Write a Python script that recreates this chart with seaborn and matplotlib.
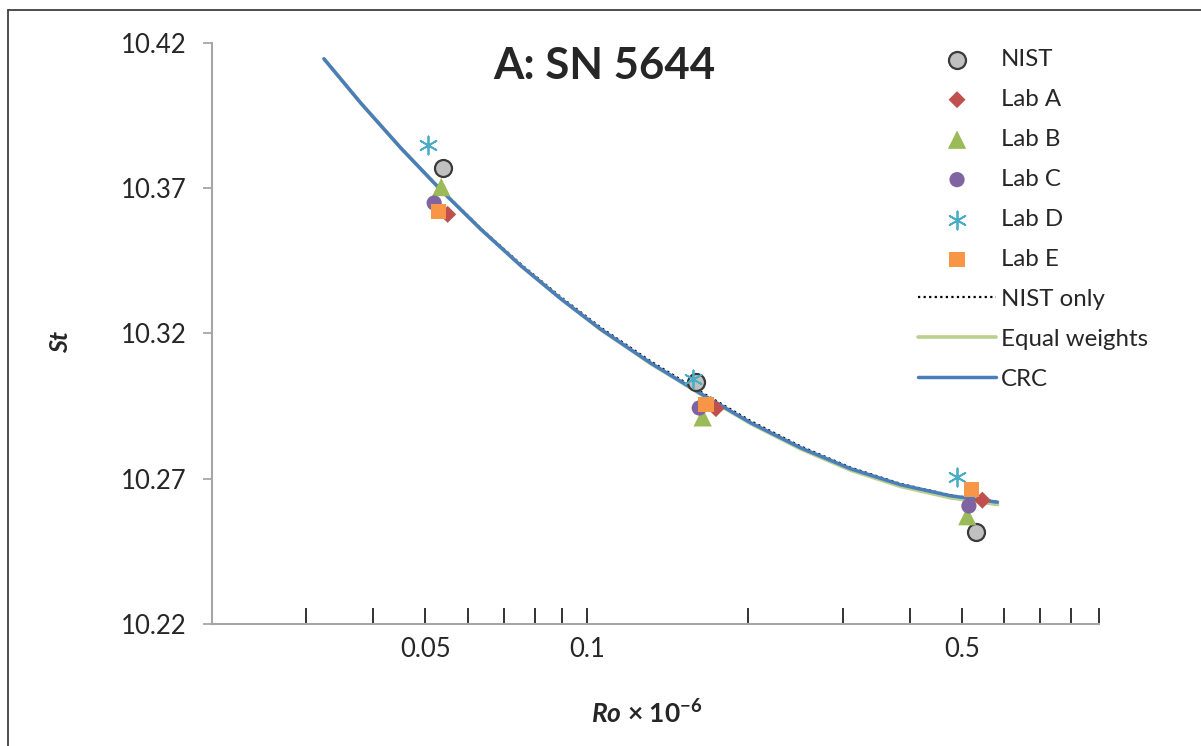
import matplotlib
matplotlib.use('Agg')
import matplotlib.pyplot as plt
from matplotlib.lines import Line2D
from matplotlib.ticker import NullLocator
import seaborn as sns

# Measured points (Ro x 1e-6, St)
nist_ro = [0.0539, 0.1596, 0.5301]
nist_st = [10.3768, 10.3033, 10.2516]
laba_ro = [0.0550, 0.1739, 0.5457]
laba_st = [10.3609, 10.2941, 10.2626]
labb_ro = [0.0535, 0.1643, 0.5116]
labb_st = [10.3703, 10.2911, 10.2571]
labc_ro = [0.0519, 0.1619, 0.5151]
labc_st = [10.3648, 10.2943, 10.2606]
labd_ro = [0.0505, 0.1573, 0.4901]
labd_st = [10.3846, 10.3044, 10.2706]
labe_ro = [0.0529, 0.1666, 0.5205]
labe_st = [10.3620, 10.2956, 10.2663]

# Fitted curves
curve_ro = [0.03234, 0.03795, 0.04504, 0.05347, 0.06347, 0.07534, 0.08946, 0.1062,
            0.1316, 0.1631, 0.2020, 0.2503, 0.3101, 0.3843, 0.4763, 0.5824]
crc_st = [10.4144, 10.3990, 10.3836, 10.3692, 10.3557, 10.3432, 10.3318, 10.3213,
          10.3097, 10.2992, 10.2892, 10.2806, 10.2734, 10.2679, 10.2641, 10.2619]
equal_st = [10.4144, 10.3990, 10.3836, 10.3692, 10.3557, 10.3432, 10.3318, 10.3212,
            10.3095, 10.2990, 10.2889, 10.2802, 10.2729, 10.2673, 10.2634, 10.2611]
nistonly_st = [10.4145, 10.3991, 10.3838, 10.3694, 10.3560, 10.3437, 10.3324, 10.3219,
               10.3103, 10.2998, 10.2898, 10.2811, 10.2738, 10.2682, 10.2643, 10.2620]

x_ticks = [0.02, 0.03, 0.04, 0.05, 0.06, 0.07, 0.08, 0.09, 0.1,
           0.2, 0.3, 0.4, 0.5, 0.6, 0.7, 0.8, 0.9]
x_labels = ['', '', '', '0.05', '', '', '', '', '0.1',
            '', '', '', '0.5', '', '', '', '']
y_ticks = [10.22, 10.27, 10.32, 10.37, 10.42]

sns.set_style('white')
plt.rcParams['font.family'] = ['Lato', 'DejaVu Sans']
plt.rcParams['mathtext.fontset'] = 'custom'
plt.rcParams['mathtext.rm'] = 'Lato:bold'
plt.rcParams['mathtext.it'] = 'Lato:bold:italic'

fig = plt.figure(figsize=(12.01, 7.46), dpi=100)
ax = fig.add_axes([0.1765, 0.1635, 0.7385, 0.7795])

sns.lineplot(x=curve_ro, y=nistonly_st, ax=ax, color='black', linestyle=(0, (1, 1.5)),
             linewidth=1.6, sort=False, estimator=None, label='NIST only', zorder=2)
sns.lineplot(x=curve_ro, y=equal_st, ax=ax, color='#B9D08F', linewidth=2.6,
             sort=False, estimator=None, label='Equal weights', zorder=2)
sns.lineplot(x=curve_ro, y=crc_st, ax=ax, color='#4A7EBB', linewidth=2.5,
             sort=False, estimator=None, label='CRC', zorder=3)

series = [
    ('NIST', nist_ro, nist_st, 'o', '#C0C0C0', '#3A3A3A', 150, 1.6),
    ('Lab A', laba_ro, laba_st, 'D', '#C0504D', 'none', 75, 0),
    ('Lab B', labb_ro, labb_st, '^', '#9BBB59', 'none', 175, 0),
    ('Lab C', labc_ro, labc_st, 'o', '#8064A2', 'none', 120, 0),
    ('Lab D', labd_ro, labd_st, (6, 2, 0), '#4BACC6', '#4BACC6', 170, 1.3),
    ('Lab E', labe_ro, labe_st, 's', '#F79646', 'none', 120, 0),
]
for name, xs, ys, mk, fc, ec, size, lw in series:
    sns.scatterplot(x=xs, y=ys, ax=ax, marker=mk, s=size, color=fc,
                    edgecolor=ec, linewidth=lw, label=name, zorder=4)

ax.set_xscale('log')
ax.set_xlim(0.02, 0.9)
ax.set_ylim(10.22, 10.42)
ax.set_xticks(x_ticks)
ax.set_xticklabels(x_labels)
ax.xaxis.set_minor_locator(NullLocator())
ax.set_yticks(y_ticks)
ax.set_yticklabels([f'{v:.2f}' for v in y_ticks])

ax.tick_params(axis='x', direction='in', length=11.5, width=1.4, color='#333333',
               labelsize=18.5, pad=9, bottom=True)
ax.tick_params(axis='y', direction='out', length=6.5, width=1.2, color='#A0A0A0',
               labelsize=18.5, pad=12, left=True)

for side in ['top', 'right']:
    ax.spines[side].set_visible(False)
for side in ['left', 'bottom']:
    ax.spines[side].set_color('#A6A6A6')
    ax.spines[side].set_linewidth(1.5)

ax.set_xlabel(r'$Ro$ × 10$^{-6}$', fontsize=19, fontweight='bold')
ax.xaxis.set_label_coords(0.49, -0.129)
ax.xaxis.label.set_va('top')
ax.set_ylabel('St', fontsize=18, fontweight='bold', style='italic')
ax.yaxis.set_label_coords(-0.158, 0.485)

fig.text(604 / 1201, 1 - 66 / 746, 'A: SN 5644', fontsize=31.5, fontweight='bold',
         ha='center', va='center')

handles, labels = ax.get_legend_handles_labels()
order = ['NIST', 'Lab A', 'Lab B', 'Lab C', 'Lab D', 'Lab E', 'NIST only', 'Equal weights', 'CRC']
hmap = dict(zip(labels, handles))
ax.legend([hmap[k] for k in order], order, loc='upper left',
          bbox_to_anchor=(918 / 1201, 1 - 49 / 746), bbox_transform=fig.transFigure,
          frameon=False, fontsize=17.3, handlelength=3.25, handletextpad=0.2,
          labelspacing=0.79, borderaxespad=0, borderpad=0)

# partial frame around the figure (top and left edges only)
fig.add_artist(Line2D([8 / 1201, 1], [1 - 10 / 746, 1 - 10 / 746], color='#404040',
                      linewidth=1.3, transform=fig.transFigure))
fig.add_artist(Line2D([8 / 1201, 8 / 1201], [0, 1 - 10 / 746], color='#404040',
                      linewidth=1.3, transform=fig.transFigure))

fig.savefig('out.png', dpi=100)
plt.close(fig)
